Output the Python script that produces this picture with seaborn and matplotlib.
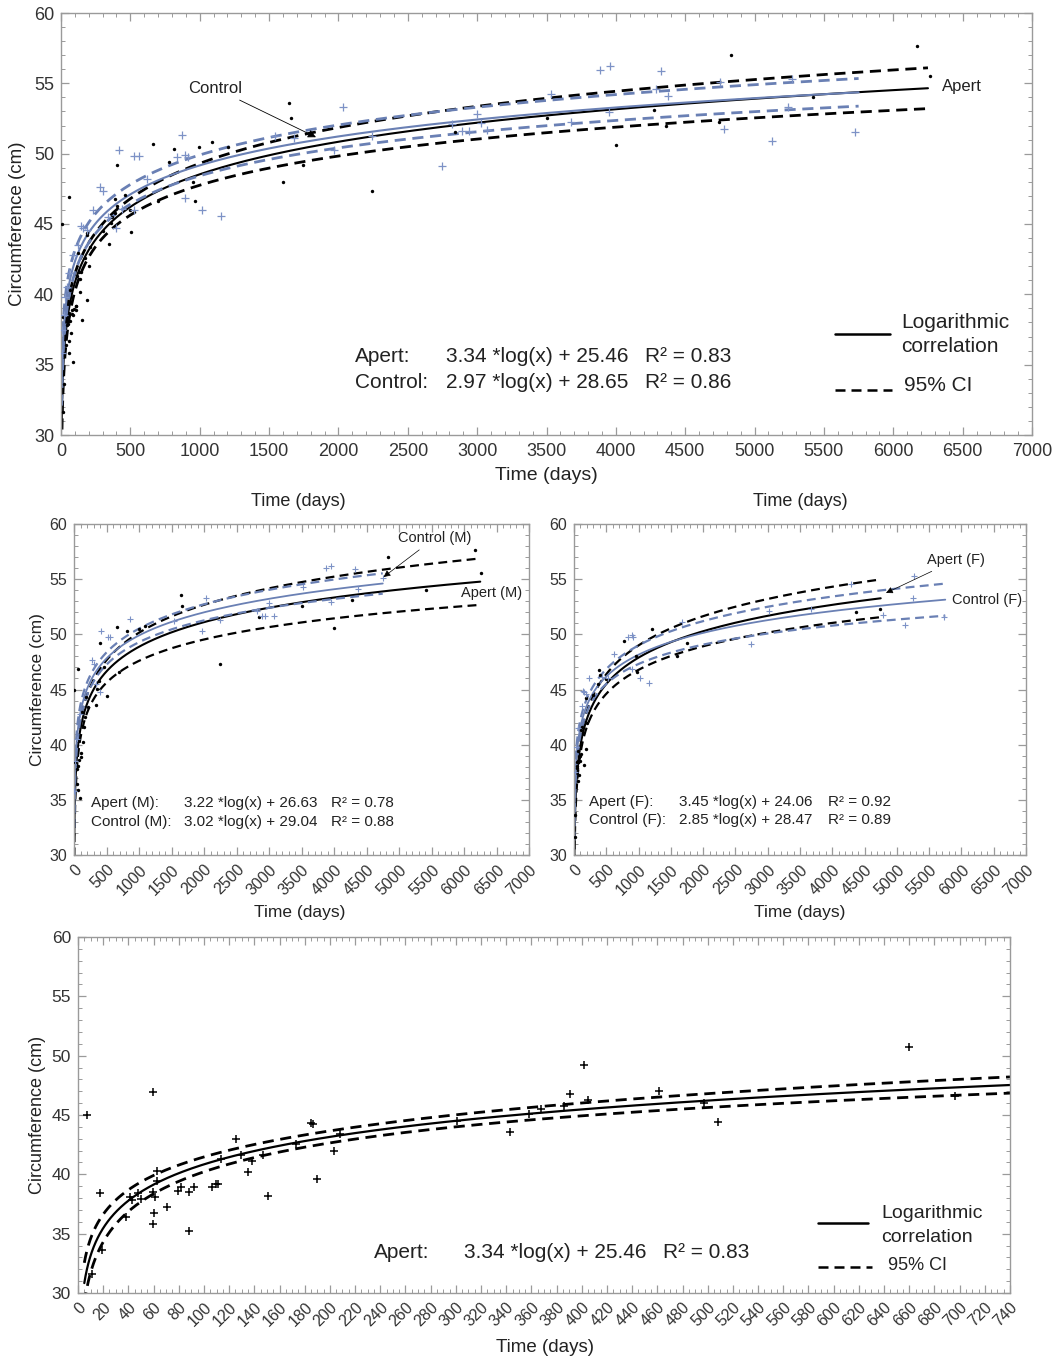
import numpy as np
import matplotlib
matplotlib.use("Agg")
import matplotlib.pyplot as plt
import seaborn as sns
from matplotlib.ticker import MultipleLocator
from matplotlib.lines import Line2D

# ---------------- data ----------------
apert_m_x = [6.8, 17.5, 38.5, 42.5, 59.4, 59.4, 61.4, 63, 79.4, 88.4, 106.6, 111, 125.2, 134.7,
             147, 173, 184.9, 208, 342.8, 358, 386, 402, 461, 508, 660, 696, 816, 993, 1088,
             1644, 1656, 2245, 2842, 3505, 4000, 4274, 4832, 5422, 6169, 6267]
apert_m_y = [45.0, 38.4, 36.4, 37.8, 46.9, 35.85, 38.1, 40.3, 38.6, 35.2, 38.9, 39.2, 42.95, 40.2,
             41.6, 42.55, 44.35, 43.37, 43.6, 45.09, 45.79, 49.22, 47.06, 44.44, 50.7, 46.6, 50.3,
             50.44, 50.8, 53.57, 52.53, 47.33, 51.56, 52.57, 50.6, 53.12, 57.03, 54.05, 57.62, 55.55]

apert_f_x = [11.2, 19.1, 41.2, 47.7, 49.9, 59.4, 60.3, 63, 70.9, 82, 88.4, 91.9, 109.4, 113.4,
             129.8, 137.9, 150.8, 186.2, 189.5, 203, 300.8, 368, 390.6, 405, 497, 779, 955, 969,
             1203, 1597, 1747, 4362, 4742]
apert_f_y = [31.63, 33.6, 38.1, 38.4, 37.9, 38.5, 36.7, 39.45, 37.26, 38.9, 38.5, 38.95, 39.15, 41.3,
             41.6, 41.1, 38.2, 44.2, 39.6, 42.0, 44.5, 45.5, 46.75, 46.3, 45.99, 49.44, 48.0, 46.6,
             50.5, 48.0, 49.22, 51.98, 52.27]

control_m_x = [5, 20, 45, 90, 280, 304, 340, 399, 419, 528, 560, 869, 1544, 1965, 2033, 2245,
               2817, 2890, 2939, 3000, 3073, 3529, 3884, 3951, 3958, 4325, 4374, 4754]
control_m_y = [35.8, 38.5, 40.5, 42.8, 47.66, 47.35, 45.5, 44.74, 50.28, 49.8, 49.8, 51.35, 51.25,
               50.28, 53.3, 51.27, 52.1, 51.63, 51.63, 52.8, 51.7, 54.25, 55.98, 52.94, 56.22,
               55.9, 54.13, 55.08]

control_f_x = [10, 30, 60, 120, 146, 158, 185, 230, 438, 523, 618, 833, 894, 894, 918, 1015, 1154,
               1680, 2744, 3025, 3676, 4289, 4778, 5129, 5244, 5268, 5726]
control_f_y = [37.5, 39.8, 41.5, 43.5, 44.86, 44.74, 44.6, 46.0, 46.1, 46.0, 48.2, 49.73, 49.9,
               46.83, 49.73, 46.0, 45.57, 51.1, 49.13, 52.15, 52.27, 54.6, 51.75, 50.87, 53.3,
               55.31, 51.56]

# logarithmic fits (y = a*ln(x) + b) and 95% CI shape, per group
fit_groups = ["Apert", "Control", "Apert (M)", "Control (M)", "Apert (F)", "Control (F)"]
fit_slope = [3.34, 2.97, 3.22, 3.02, 3.45, 2.85]
fit_intercept = [25.46, 28.65, 26.63, 29.04, 24.06, 28.47]
fit_r2 = [0.83, 0.86, 0.78, 0.88, 0.92, 0.89]
fit_x_end = [6250, 5750, 6250, 4750, 4750, 5750]
ci_h0 = [0.5, 0.7, 0.8, 0.55, 0.7, 0.6]
ci_k = [0.42, 0.26, 0.52, 0.3, 0.45, 0.42]
ci_center = [5.5, 6.0, 5.0, 6.0, 5.0, 5.5]

# ---------------- style ----------------
sns.set_theme(style="white")
plt.rcParams['font.family'] = ['Liberation Sans', 'DejaVu Sans']

W, H = 1063, 1363
fig = plt.figure(figsize=(W / 100, H / 100), dpi=100)
BLUE = "#6a80b4"
BLUE_PT = "#7d92c6"
GRAY = "#9a9a9a"
TXT = "#222222"


def rect(l, t, r, b):
    return [l / W, 1 - b / H, (r - l) / W, (b - t) / H]


def ftext(x, y, s, size, ha="left", **kw):
    fig.text(x / W, 1 - y / H, s, fontsize=size, ha=ha, va="center", color=TXT, **kw)


def fline(x1, x2, y, lw, ls="-"):
    fig.add_artist(Line2D([x1 / W, x2 / W], [1 - y / H, 1 - y / H], color="black", lw=lw,
                          linestyle=ls, transform=fig.transFigure))


def style_axes(ax, xmax, xmaj, xmin, labelsize, rot=False):
    ax.set_xlim(0, xmax)
    ax.set_ylim(30, 60)
    ax.xaxis.set_major_locator(MultipleLocator(xmaj))
    ax.xaxis.set_minor_locator(MultipleLocator(xmin))
    ax.yaxis.set_major_locator(MultipleLocator(5))
    ax.yaxis.set_minor_locator(MultipleLocator(1))
    ax.tick_params(which="both", direction="in", bottom=True, left=True, top=True, right=True,
                   color=GRAY, labelcolor="#333333")
    ax.tick_params(which="major", length=6, width=0.9, labelsize=labelsize)
    ax.tick_params(which="minor", length=3.2, width=0.7)
    ax.tick_params(axis="y", pad=5)
    ax.tick_params(axis="x", pad=6 if not rot else 5)
    if rot:
        for lab in ax.get_xticklabels():
            lab.set_rotation(45)
            lab.set_ha("right")
            lab.set_va("top")
            lab.set_rotation_mode("anchor")
    for sp in ax.spines.values():
        sp.set_color(GRAY)
        sp.set_linewidth(1.0)
    ax.set_xlabel("")
    ax.set_ylabel("")


def draw_fit(ax, i, color, lw_solid, lw_dash, x_end=None):
    xe = fit_x_end[i] if x_end is None else x_end
    xs = np.geomspace(5, xe, 500)
    L = np.log(xs)
    fit = fit_slope[i] * L + fit_intercept[i]
    hw = np.sqrt(ci_h0[i] ** 2 + (ci_k[i] * (L - ci_center[i])) ** 2)
    sns.lineplot(x=xs, y=fit, ax=ax, color=color, lw=lw_solid, estimator=None, sort=False)
    for s in (-1, 1):
        sns.lineplot(x=xs, y=fit + s * hw, ax=ax, color=color, lw=lw_dash, estimator=None,
                     sort=False, linestyle=(0, (4, 2.4)))


def dots(ax, x, y):
    sns.scatterplot(x=x, y=y, ax=ax, marker="o", s=6, color="black", linewidth=0, zorder=3)


def pluses(ax, x, y, color, s=26, lw=0.9):
    sns.scatterplot(x=x, y=y, ax=ax, marker="+", s=s, color=color, linewidth=lw, zorder=3)


apert_x = apert_m_x + apert_f_x
apert_y = apert_m_y + apert_f_y
control_x = control_m_x + control_f_x
control_y = control_m_y + control_f_y

# ---------------- top panel ----------------
ax1 = fig.add_axes(rect(61, 13, 1032, 435))
dots(ax1, apert_x, apert_y)
pluses(ax1, control_x, control_y, BLUE_PT)
draw_fit(ax1, 0, "black", 1.5, 2.0)
draw_fit(ax1, 1, BLUE, 1.5, 2.0)
style_axes(ax1, 7000, 500, 100, 13)
ax1.annotate("Control", xy=(1838, 51.17), xytext=(1110, 54.66), fontsize=12, color=TXT,
             ha="center", va="center",
             arrowprops=dict(arrowstyle="-|>", color="black", lw=0.6, mutation_scale=12,
                             shrinkA=2, shrinkB=0))
ax1.text(6352, 54.8, "Apert", fontsize=12, ha="left", va="center", color=TXT)
ftext(18, 224, "Circumference (cm)", 13.5, ha="center", rotation=90)
ftext(546, 476, "Time (days)", 14, ha="center")
ftext(355, 357, "Apert:", 15)
ftext(446, 357, f"{fit_slope[0]:.2f} *log(x) + {fit_intercept[0]:.2f}", 15)
ftext(645, 357, f"R² = {fit_r2[0]:.2f}", 15)
ftext(355, 382, "Control:", 15)
ftext(446, 382, f"{fit_slope[1]:.2f} *log(x) + {fit_intercept[1]:.2f}", 15)
ftext(645, 382, f"R² = {fit_r2[1]:.2f}", 15)
fline(835, 890, 334, 1.8)
ftext(901, 323, "Logarithmic", 15)
ftext(901, 347, "correlation", 15)
fline(835, 892, 390, 1.8, (0, (4, 2.4)))
ftext(904, 386, "95% CI", 15)

# stray titles
ftext(298, 502, "Time (days)", 13, ha="center")
ftext(800, 502, "Time (days)", 13, ha="center")

# ---------------- middle left (M) ----------------
ax2 = fig.add_axes(rect(74, 524, 529, 855))
dots(ax2, apert_m_x, apert_m_y)
pluses(ax2, control_m_x, control_m_y, BLUE_PT, s=24, lw=0.8)
draw_fit(ax2, 2, "black", 1.5, 1.6)
draw_fit(ax2, 3, BLUE, 1.3, 1.6)
style_axes(ax2, 7000, 500, 100, 11.5, rot=True)
ax2.annotate("Control (M)", xy=(4763, 55.2), xytext=(5554, 58.74), fontsize=10.5, color=TXT,
             ha="center", va="center",
             arrowprops=dict(arrowstyle="-|>", color="black", lw=0.5, mutation_scale=10,
                             shrinkA=2, shrinkB=0))
ax2.text(6431, 53.75, "Apert (M)", fontsize=10.5, ha="center", va="center", color=TXT)
ftext(38, 690, "Circumference (cm)", 12.5, ha="center", rotation=90)
ftext(300, 912, "Time (days)", 12.5, ha="center")
ftext(91, 803, "Apert (M):", 11)
ftext(184, 803, f"{fit_slope[2]:.2f} *log(x) + {fit_intercept[2]:.2f}", 11)
ftext(331, 803, f"R² = {fit_r2[2]:.2f}", 11)
ftext(91, 822, "Control (M):", 11)
ftext(184, 822, f"{fit_slope[3]:.2f} *log(x) + {fit_intercept[3]:.2f}", 11)
ftext(331, 822, f"R² = {fit_r2[3]:.2f}", 11)

# ---------------- middle right (F) ----------------
ax3 = fig.add_axes(rect(574, 524, 1026, 855))
dots(ax3, apert_f_x, apert_f_y)
pluses(ax3, control_f_x, control_f_y, BLUE_PT, s=24, lw=0.8)
draw_fit(ax3, 4, "black", 1.5, 1.6)
draw_fit(ax3, 5, BLUE, 1.3, 1.6)
style_axes(ax3, 7000, 500, 100, 11.5, rot=True)
ax3.annotate("Apert (F)", xy=(4832, 53.75), xytext=(5916, 56.75), fontsize=10.5, color=TXT,
             ha="center", va="center",
             arrowprops=dict(arrowstyle="-|>", color="black", lw=0.5, mutation_scale=10,
                             shrinkA=2, shrinkB=0))
ax3.text(6396, 53.12, "Control (F)", fontsize=10.5, ha="center", va="center", color=TXT)
ftext(800, 912, "Time (days)", 12.5, ha="center")
ftext(589, 802, "Apert (F):", 11)
ftext(679, 802, f"{fit_slope[4]:.2f} *log(x) + {fit_intercept[4]:.2f}", 11)
ftext(828, 802, f"R² = {fit_r2[4]:.2f}", 11)
ftext(589, 820, "Control (F):", 11)
ftext(679, 820, f"{fit_slope[5]:.2f} *log(x) + {fit_intercept[5]:.2f}", 11)
ftext(828, 820, f"R² = {fit_r2[5]:.2f}", 11)

# ---------------- bottom (Apert, first 740 days) ----------------
ax4 = fig.add_axes(rect(78, 937, 1010, 1293))
early = [(x, y) for x, y in zip(apert_x, apert_y) if x <= 740]
pluses(ax4, [p[0] for p in early], [p[1] for p in early], "black", s=26, lw=1.1)
draw_fit(ax4, 0, "black", 1.6, 2.0, x_end=740)
style_axes(ax4, 740, 20, 5, 11.5, rot=True)
ax4.tick_params(axis="y", labelsize=12.5)
ftext(38, 1115, "Circumference (cm)", 13, ha="center", rotation=90)
ftext(545, 1347, "Time (days)", 13.5, ha="center")
ftext(374, 1253, "Apert:", 15)
ftext(464, 1253, f"{fit_slope[0]:.2f} *log(x) + {fit_intercept[0]:.2f}", 15)
ftext(663, 1253, f"R² = {fit_r2[0]:.2f}", 15)
fline(818, 868, 1223, 1.8)
ftext(881, 1213, "Logarithmic", 14)
ftext(881, 1237, "correlation", 14)
fline(818, 872, 1267, 1.8, (0, (4, 2.4)))
ftext(888, 1266, "95% CI", 13)

fig.savefig("out.png", dpi=100)
